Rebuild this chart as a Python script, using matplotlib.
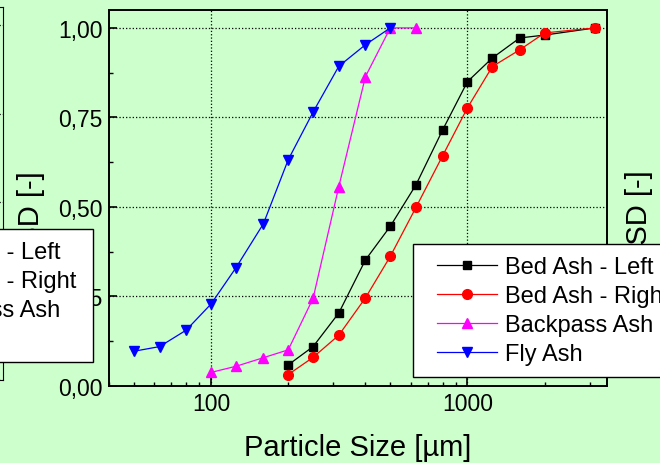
import matplotlib
matplotlib.use("Agg")
import matplotlib.pyplot as plt
from matplotlib.ticker import MultipleLocator, FuncFormatter, NullFormatter, LogLocator
from matplotlib.legend_handler import HandlerLine2D

plt.rcParams['font.family'] = ['Liberation Sans', 'DejaVu Sans']

# sieve sizes [um] and cumulative PSD values
bed_left_x = [200, 250, 315, 400, 500, 630, 800, 1000, 1250, 1600, 2000, 3150]
bed_left_y = [0.059, 0.11, 0.204, 0.352, 0.446, 0.562, 0.715, 0.85, 0.916, 0.972, 0.980, 1.0]
bed_right_x = [200, 250, 315, 400, 500, 630, 800, 1000, 1250, 1600, 2000, 3150]
bed_right_y = [0.032, 0.08, 0.142, 0.246, 0.362, 0.499, 0.643, 0.777, 0.892, 0.939, 0.986, 1.0]
backpass_x = [100, 125, 160, 200, 250, 315, 400, 500, 630]
backpass_y = [0.038, 0.055, 0.079, 0.101, 0.245, 0.557, 0.864, 1.0, 1.0]
fly_x = [50, 63, 80, 100, 125, 160, 200, 250, 315, 400, 500]
fly_y = [0.097, 0.11, 0.156, 0.229, 0.33, 0.453, 0.632, 0.765, 0.893, 0.953, 1.0]

labels = ['Bed Ash - Left', 'Bed Ash - Right', 'Backpass Ash', 'Fly Ash']
ylabel = 'PSD [-]'
xlabel = 'Particle Size [µm]'

bg = '#ccffcc'
W, H = 660, 464
fig = plt.figure(figsize=(6.6, 4.64), dpi=100, facecolor=bg)


def style_axes(a, lw):
    a.set_facecolor(bg)
    a.set_xscale('log')
    a.set_xlim(40, 3500)
    a.set_ylim(0, 1.05)
    a.yaxis.set_major_locator(MultipleLocator(0.25))
    a.yaxis.set_minor_locator(MultipleLocator(0.125))
    a.yaxis.set_major_formatter(FuncFormatter(lambda v, p: f"{v:.2f}".replace('.', ',')))
    a.xaxis.set_major_locator(LogLocator(base=10))
    a.xaxis.set_minor_locator(LogLocator(base=10, subs=range(2, 10)))
    a.xaxis.set_major_formatter(FuncFormatter(lambda v, p: f"{v:g}"))
    a.xaxis.set_minor_formatter(NullFormatter())
    a.tick_params(which='both', direction='in', top=False, right=False, labelsize=16.5, pad=4.5)
    a.tick_params(which='major', length=6, width=1.2)
    a.tick_params(which='minor', length=3, width=1.0)
    a.grid(True, which='major', color='black', linestyle=':', linewidth=0.9)
    for s in a.spines.values():
        s.set_linewidth(lw)


# neighbouring panel on the left (only its right edge is inside the picture)
ax0 = fig.add_axes([(3 - 498) / W, 1 - 381 / H, 498 / W, 373 / H])
style_axes(ax0, 0.8)

# main panel
ax = fig.add_axes([109 / W, 1 - 387 / H, 498 / W, 376 / H])
style_axes(ax, 1.4)

l1, = ax.plot(bed_left_x, bed_left_y, color='black', lw=0.9, marker='s', ms=6, label=labels[0])
l2, = ax.plot(bed_right_x, bed_right_y, color='red', lw=0.9, marker='o', ms=7, label=labels[1])
l3, = ax.plot(backpass_x, backpass_y, color='magenta', lw=0.9, marker='^', ms=7.5, label=labels[2])
l4, = ax.plot(fly_x, fly_y, color='blue', lw=0.9, marker='v', ms=7.5, label=labels[3])

ax.set_xlabel(xlabel, fontsize=21, labelpad=13)
ax.set_ylabel(ylabel, fontsize=21)
ax.yaxis.set_label_coords(-0.128, 0.45)

# y label of the neighbouring panel on the right
fig.text(639 / W, 1 - 170 / H, ylabel, rotation=90, ha='center', va='top', fontsize=21)

handles = [l1, l2, l3, l4]
hmap = {h: HandlerLine2D(xpad=0.5) for h in handles}
leg_kw = dict(loc='upper left', mode='expand', fontsize=17, frameon=True, fancybox=False,
              framealpha=1, edgecolor='black', facecolor='white', borderaxespad=0,
              labelspacing=0.3, handlelength=3.05, handletextpad=0.35, borderpad=0.5,
              handler_map=hmap)

leg_main = fig.legend(handles, labels, bbox_to_anchor=(413 / W, 1 - 375 / H, 284 / W, 130 / H), **leg_kw)
leg_main.get_frame().set_linewidth(1.0)
leg_left = fig.legend(handles, labels, bbox_to_anchor=(-180 / W, 1 - 360 / H, 273 / W, 130 / H), **leg_kw)
leg_left.get_frame().set_linewidth(1.0)

fig.savefig('out.png', dpi=100, facecolor=bg)
